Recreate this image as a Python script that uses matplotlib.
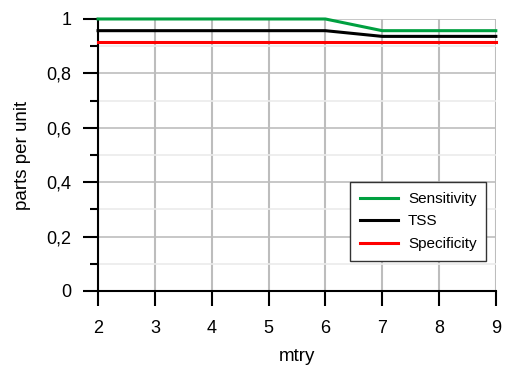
import matplotlib.pyplot as plt
from matplotlib.ticker import MultipleLocator, FuncFormatter

# values
mtry = [2, 3, 4, 5, 6, 7, 8, 9]
sensitivity = [1.0, 1.0, 1.0, 1.0, 1.0, 0.957, 0.957, 0.957]
tss = [0.957, 0.957, 0.957, 0.957, 0.957, 0.936, 0.936, 0.936]
specificity = [0.915, 0.915, 0.915, 0.915, 0.915, 0.915, 0.915, 0.915]

plt.rcParams['font.family'] = ['Liberation Sans', 'DejaVu Sans']

fig = plt.figure(figsize=(5.08, 3.65), dpi=100)
ax = fig.add_axes([0.193, 0.203, 0.783, 0.745])

ax.plot(mtry, sensitivity, color='#00a040', lw=2.2, label='Sensitivity', clip_on=False, zorder=5)
ax.plot(mtry, tss, color='black', lw=2.2, label='TSS', clip_on=False, zorder=5)
ax.plot(mtry, specificity, color='#ff0000', lw=2.2, label='Specificity', clip_on=False, zorder=5)

ax.set_xlim(2, 9)
ax.set_ylim(0, 1)
ax.xaxis.set_major_locator(MultipleLocator(1))
ax.yaxis.set_major_locator(MultipleLocator(0.2))
ax.yaxis.set_minor_locator(MultipleLocator(0.1))
ax.yaxis.set_major_formatter(FuncFormatter(lambda v, p: ('%g' % round(v, 1)).replace('.', ',')))

ax.grid(which='major', axis='x', color='#bdbdbd', lw=1.5)
ax.grid(which='major', axis='y', color='#bdbdbd', lw=1.2)
ax.grid(which='minor', axis='y', color='#ebebeb', lw=1.2)
ax.set_axisbelow(True)

for s in ['top', 'right']:
    ax.spines[s].set_visible(False)
for s in ['left', 'bottom']:
    ax.spines[s].set_linewidth(1.5)

ax.tick_params(which='major', length=11, width=1.5, labelsize=13)
ax.tick_params(axis='y', pad=8)
ax.tick_params(axis='x', pad=10)
ax.tick_params(which='minor', length=6, width=1.5)

ax.set_xlabel('mtry', fontsize=13.5, va='baseline')
ax.xaxis.set_label_coords(0.5, -0.258)
ax.set_ylabel('parts per unit', fontsize=13.5, va='center')
ax.yaxis.set_label_coords(-0.191, 0.5)

leg = ax.legend(loc='upper left', bbox_to_anchor=(0.633, 0.40), borderaxespad=0,
                fontsize=11, fancybox=False, framealpha=1, edgecolor='#333333',
                handlelength=2.5, handletextpad=0.65, borderpad=0.65, labelspacing=0.55)
leg.get_frame().set_linewidth(1.0)

fig.savefig('out.png', dpi=100)
